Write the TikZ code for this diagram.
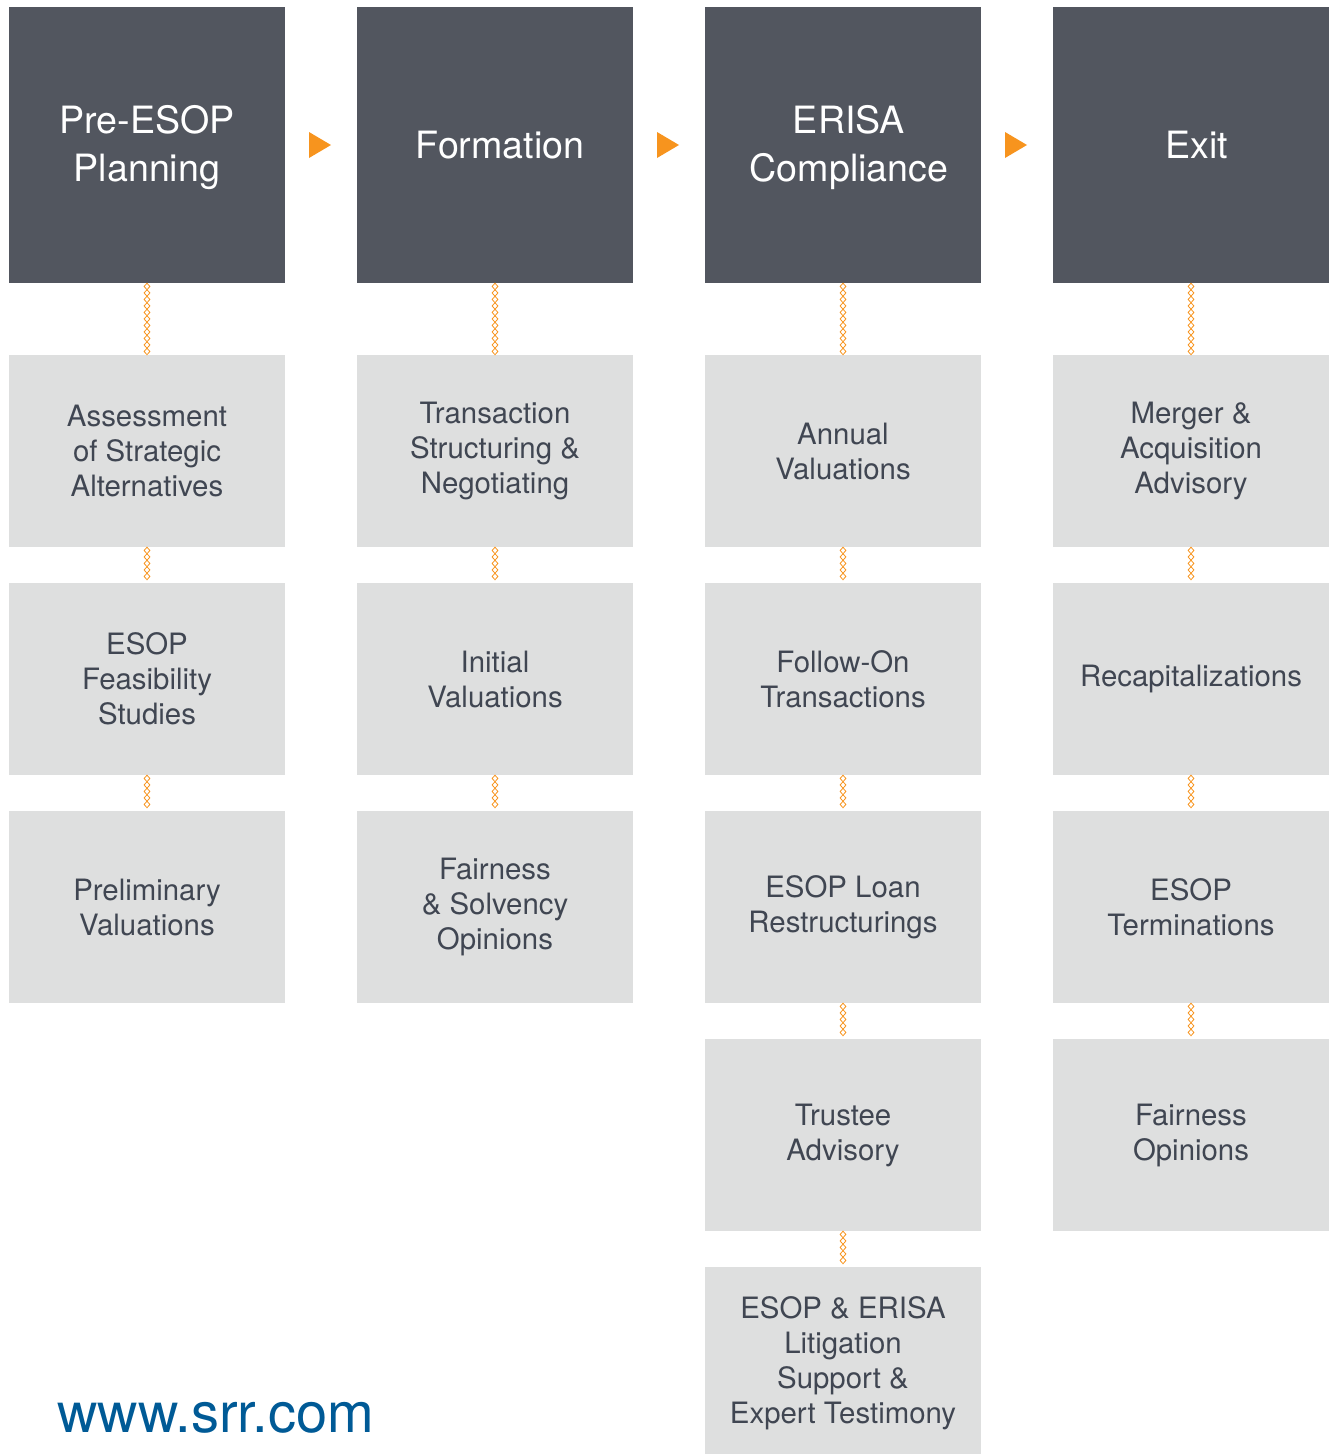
\documentclass[tikz,border=0pt]{standalone}
\usepackage{fontspec}
\setmainfont{TeX Gyre Heros}
\usetikzlibrary{decorations.markings}
\definecolor{hdr}{HTML}{52565F}
\definecolor{boxc}{HTML}{DEDFDF}
\definecolor{txt}{HTML}{404652}
\definecolor{org}{HTML}{F7941E}
\definecolor{urlc}{HTML}{005A96}
\tikzset{
  header/.style={fill=hdr, minimum width=276pt, minimum height=276pt, inner sep=0pt},
  htext/.style={text=white, inner sep=0pt, align=center, font=\fontsize{37.6}{48}\selectfont},
  item/.style={fill=boxc, text=txt, minimum width=276pt, minimum height=192pt, inner sep=0pt, align=center,
    font=\fontsize{29.4}{35}\selectfont},
  chain/.style={decorate, decoration={markings,
      mark=between positions 3.25pt and -3pt step 6.5pt with {
        \draw[org, line width=0.8pt] (-3.25pt,0pt) -- (0pt,2.9pt) -- (3.25pt,0pt) -- (0pt,-2.9pt) -- cycle;}}},
  tri/.style={fill=org}
}
\begin{document}
\begin{tikzpicture}[x=1pt,y=-1pt]
\useasboundingbox (0,0) rectangle (1336,1454);
% headers
\node[header] (h1) at (147,145) {};
\node[header] (h2) at (495,145) {};
\node[header] (h3) at (843,145) {};
\node[header] (h4) at (1191,145) {};
\node[htext] (t1) at ([yshift=-3pt]h1.center) {Pre-ESOP\\Planning};
\node[htext] (t2) at ([xshift=5pt]h2.center) {Formation};
\node[htext] (t3) at ([xshift=6pt,yshift=-3pt]h3.center) {ERISA\\Compliance};
\node[htext] (t4) at ([xshift=6pt]h4.center) {Exit};
% arrows
\fill[tri] (309,132) -- (331,145) -- (309,158) -- cycle;
\fill[tri] (657,132) -- (679,145) -- (657,158) -- cycle;
\fill[tri] (1005,132) -- (1027,145) -- (1005,158) -- cycle;
% column 1
\node[item] (a1) at (147,451) {Assessment\\of Strategic\\Alternatives};
\node[item] (a2) at (147,679) {ESOP\\Feasibility\\Studies};
\node[item] (a3) at (147,907) {Preliminary\\Valuations};
% column 2
\node[item] (b1) at (495,451) {Transaction\\Structuring \&\\Negotiating};
\node[item] (b2) at (495,679) {Initial\\Valuations};
\node[item] (b3) at (495,907) {Fairness\\\& Solvency\\Opinions};
% column 3
\node[item] (c1) at (843,451) {Annual\\Valuations};
\node[item] (c2) at (843,679) {Follow-On\\Transactions};
\node[item] (c3) at (843,907) {ESOP Loan\\Restructurings};
\node[item] (c4) at (843,1135) {Trustee\\Advisory};
\node[item] (c5) at (843,1363) {ESOP \& ERISA\\Litigation\\Support \&\\Expert Testimony};
% column 4
\node[item] (d1) at (1191,451) {Merger \&\\Acquisition\\Advisory};
\node[item] (d2) at (1191,679) {Recapitalizations};
\node[item] (d3) at (1191,907) {ESOP\\Terminations};
\node[item] (d4) at (1191,1135) {Fairness\\Opinions};
% connectors
\path[chain] (h1.south) -- (a1.north);
\path[chain] (a1.south) -- (a2.north);
\path[chain] (a2.south) -- (a3.north);
\path[chain] (h2.south) -- (b1.north);
\path[chain] (b1.south) -- (b2.north);
\path[chain] (b2.south) -- (b3.north);
\path[chain] (h3.south) -- (c1.north);
\path[chain] (c1.south) -- (c2.north);
\path[chain] (c2.south) -- (c3.north);
\path[chain] (c3.south) -- (c4.north);
\path[chain] (c4.south) -- (c5.north);
\path[chain] (h4.south) -- (d1.north);
\path[chain] (d1.south) -- (d2.north);
\path[chain] (d2.south) -- (d3.north);
\path[chain] (d3.south) -- (d4.north);
% url
\node[anchor=base west, inner sep=0pt, text=urlc, font=\fontsize{56}{62}\selectfont] (url) at (57,1432) {www.srr.com};
\end{tikzpicture}
\end{document}
